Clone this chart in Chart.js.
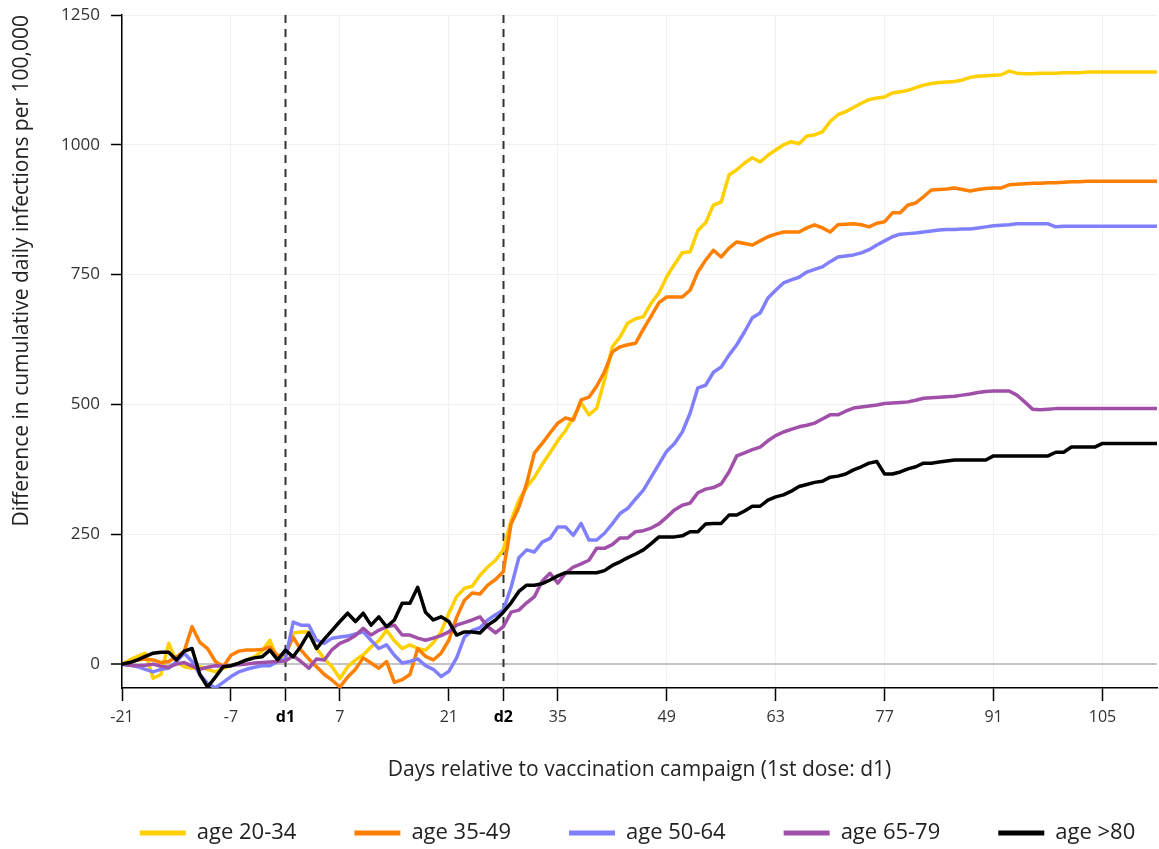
<!DOCTYPE html>
<html>
<head>
<meta charset="utf-8">
<script src="https://cdn.jsdelivr.net/npm/chart.js@4.4.1/dist/chart.umd.min.js"></script>
<style>
html,body{margin:0;padding:0;background:#ffffff;}
canvas{display:block;}
</style>
</head>
<body>
<canvas id="c" width="1159" height="849"></canvas>
<script>
// ---------- DATA ----------
const dayStart = -21, dayEnd = 112;
const days = [];
for (let d = dayStart; d <= dayEnd; d++) days.push(d);

const seriesLabels = ['age 20-34', 'age 35-49', 'age 50-64', 'age 65-79', 'age >80'];
const seriesColors = ['#FFD000', '#FF7F00', '#8080FF', '#A050A8', '#000000'];

const xTickValues = [-21, -7, 0, 7, 21, 28, 35, 49, 63, 77, 91, 105];
const xTickNames = {0: 'd1', 28: 'd2'};
const yTickValues = [0, 250, 500, 750, 1000, 1250];
const doseDays = [0, 28];

const age20_34 = [
  0, 8, 15, 21, -27, -20, 40, 5, -5, -8, -5, -10, -15, -8,
  -3, 2, 8, 14, 25, 46, 8, 15, 60, 62, 62, 30, 10, -5,
  -28, -5, 8, 18, 33, 45, 65, 45, 30, 37, 30, 27, 41, 62,
  98, 130, 146, 150, 171, 187, 200, 220, 277, 316, 341, 360, 385, 407,
  430, 450, 475, 503, 480, 493, 547, 611, 630, 657, 665, 669, 695, 715,
  746, 770, 792, 794, 835, 850, 884, 890, 942, 952, 965, 975, 967, 980,
  990, 1000, 1006, 1002, 1017, 1019, 1025, 1045, 1058, 1064, 1072, 1080, 1087, 1090,
  1092, 1100, 1102, 1105, 1110, 1115, 1118, 1120, 1121, 1122, 1125, 1130, 1132, 1133,
  1134, 1135, 1142, 1138, 1137, 1137, 1138, 1138, 1138, 1139, 1139, 1139, 1140, 1140,
  1140, 1140, 1140, 1140, 1140, 1140, 1140, 1140
];
const age35_49 = [
  0, 3, 8, 10, 8, 3, 5, 14, 25, 72, 42, 30, 5, -5,
  17, 25, 27, 27, 28, 33, 16, 20, 52, 27, 10, -5, -20, -31,
  -44, -25, -10, 12, 2, -8, 5, -35, -30, -20, 30, 15, 8, 21,
  46, 90, 123, 137, 135, 152, 163, 178, 270, 302, 348, 407, 425, 445,
  464, 474, 470, 509, 514, 535, 563, 601, 611, 615, 618, 645, 670, 696,
  707, 707, 707, 720, 755, 778, 797, 784, 801, 813, 810, 807, 815, 823,
  828, 832, 832, 832, 840, 846, 840, 832, 846, 847, 848, 846, 842, 849,
  852, 869, 869, 884, 888, 900, 913, 914, 915, 917, 914, 911, 914, 916,
  917, 917, 923, 924, 925, 926, 926, 927, 927, 928, 929, 929, 930, 930,
  930, 930, 930, 930, 930, 930, 930, 930
];
const age50_64 = [
  0, -2, -5, -10, -15, -10, -8, 5, 21, 5, -20, -37, -46, -35,
  -24, -15, -10, -6, -3, -3, 5, 10, 81, 75, 75, 46, 40, 50,
  52, 54, 58, 62, 46, 30, 37, 17, 2, 5, 10, -3, -10, -24,
  -14, 12, 52, 65, 70, 85, 95, 104, 148, 205, 220, 216, 235, 242,
  264, 264, 248, 271, 239, 239, 252, 270, 290, 300, 318, 335, 360, 385,
  410, 425, 447, 483, 532, 537, 562, 572, 595, 615, 640, 667, 676, 705,
  720, 734, 740, 745, 755, 760, 765, 775, 784, 786, 788, 792, 798, 807,
  815, 823, 828, 829, 830, 832, 834, 836, 837, 837, 838, 838, 840, 842,
  844, 845, 846, 848, 848, 848, 848, 848, 842, 843, 843, 843, 843, 843,
  843, 843, 843, 843, 843, 843, 843, 843
];
const age65_79 = [
  0, -2, -3, -2, 0, -4, -6, 0, 3, -4, -10, -6, -3, -4,
  -3, -1, 0, 2, 3, 4, 5, 6, 16, 5, -8, 10, 8, 28,
  40, 46, 55, 69, 56, 65, 72, 75, 56, 56, 50, 46, 50, 55,
  62, 75, 80, 85, 91, 72, 60, 72, 100, 104, 118, 130, 160, 175,
  156, 175, 187, 193, 200, 223, 223, 230, 243, 243, 255, 257, 262, 270,
  283, 297, 306, 310, 330, 337, 340, 347, 370, 401, 407, 413, 418, 430,
  440, 447, 452, 457, 460, 464, 472, 480, 480, 487, 493, 495, 497, 499,
  502, 503, 504, 505, 508, 512, 513, 514, 515, 516, 518, 520, 523, 525,
  526, 526, 526, 518, 505, 491, 490, 491, 492, 492, 492, 492, 492, 492,
  492, 492, 492, 492, 492, 492, 492, 492
];
const age80plus = [
  0, 3, 8, 15, 21, 23, 23, 8, 25, 30, -20, -44, -25, -5,
  -3, 2, 8, 12, 14, 27, 8, 27, 14, 35, 60, 30, 48, 65,
  82, 98, 82, 98, 75, 91, 72, 85, 117, 117, 148, 100, 85, 91,
  82, 56, 62, 62, 60, 75, 85, 100, 118, 140, 152, 152, 155, 162,
  170, 176, 176, 176, 176, 176, 180, 190, 197, 205, 212, 220, 232, 245,
  245, 245, 247, 255, 255, 270, 271, 271, 287, 287, 295, 304, 304, 316,
  322, 326, 333, 342, 346, 350, 352, 360, 362, 366, 374, 380, 387, 390,
  366, 366, 370, 376, 380, 387, 387, 389, 391, 393, 393, 393, 393, 393,
  401, 401, 401, 401, 401, 401, 401, 401, 408, 408, 418, 418, 418, 418,
  425, 425, 425, 425, 425, 425, 425, 425
];
const seriesValues = [age20_34, age35_49, age50_64, age65_79, age80plus];
const drawOrder = [4, 3, 2, 1, 0];

// ---------- CHART ----------
const FONT = "'Open Sans', 'Noto Sans', sans-serif";
Chart.defaults.font.family = FONT;
Chart.defaults.color = '#222';

const datasets = seriesLabels.map((lab, i) => ({
  label: lab,
  data: days.map((d, j) => ({x: d, y: seriesValues[i][j]})),
  borderColor: seriesColors[i],
  backgroundColor: seriesColors[i],
  borderWidth: 3.5,
  pointRadius: 0,
  pointHoverRadius: 0,
  tension: 0,
  order: drawOrder[i],
  borderJoinStyle: 'round',
  borderCapStyle: 'round'
}));

const doseLines = {
  id: 'doseLines',
  beforeDatasetsDraw(chart) {
    const {ctx, chartArea, scales} = chart;
    ctx.save();
    ctx.strokeStyle = '#333';
    ctx.lineWidth = 2;
    ctx.setLineDash([8, 6]);
    doseDays.forEach(d => {
      const x = Math.round(scales.x.getPixelForValue(d)) + 0.5;
      ctx.beginPath();
      ctx.moveTo(x, chartArea.top);
      ctx.lineTo(x, chartArea.bottom);
      ctx.stroke();
    });
    ctx.restore();
  }
};

// centre the (full-width) legend under the plot area rather than the canvas
const legendShift = {
  id: 'legendShift',
  afterLayout(chart) {
    const lg = chart.legend;
    if (!lg) return;
    const shift = (chart.chartArea.left + chart.chartArea.right) / 2 - (lg.left + lg.right) / 2 - 2;
    lg.left += shift;
    lg.right += shift;
    lg.top += 5;
    lg.bottom += 5;
  }
};

new Chart(document.getElementById('c'), {
  type: 'line',
  data: {datasets},
  plugins: [doseLines, legendShift],
  options: {
    responsive: false,
    animation: false,
    devicePixelRatio: 1,
    layout: {padding: {top: 15, right: 2, left: 0, bottom: 0}},
    plugins: {
      tooltip: {enabled: false},
      legend: {
        position: 'bottom',
        fullSize: true,
        labels: {
          boxWidth: 46,
          boxHeight: 5,
          padding: 58,
          color: '#222',
          font: {size: 22, family: FONT},
          sort: (a, b) => a.datasetIndex - b.datasetIndex,
          generateLabels: (chart) => Chart.defaults.plugins.legend.labels.generateLabels(chart)
            .map(l => Object.assign(l, {lineWidth: 0}))
        }
      }
    },
    scales: {
      x: {
        type: 'linear',
        min: dayStart,
        max: dayEnd,
        afterBuildTicks: (s) => { s.ticks = xTickValues.map(v => ({value: v})); },
        afterFit: (s) => { s.height = 71; },
        grid: {
          color: '#f1f1f1',
          lineWidth: 1,
          drawTicks: true,
          tickLength: 13,
          tickColor: '#000',
          tickWidth: 1.5
        },
        border: {display: true, color: '#000', width: 1.5},
        ticks: {
          autoSkip: false,
          maxRotation: 0,
          padding: 7,
          callback: (v) => (v in xTickNames ? xTickNames[v] : String(v)),
          color: (c) => (c.tick && (c.tick.value in xTickNames)) ? '#000' : '#333',
          font: (c) => ({
            family: FONT,
            size: 16,
            weight: (c.tick && (c.tick.value in xTickNames)) ? 'bold' : 'normal'
          })
        },
        title: {
          display: true,
          text: 'Days relative to vaccination campaign (1st dose: d1)',
          color: '#222',
          font: {size: 21, family: FONT},
          padding: {top: 0, bottom: -24}
        }
      },
      y: {
        type: 'linear',
        min: -46,
        max: 1250,
        afterBuildTicks: (s) => { s.ticks = yTickValues.map(v => ({value: v})); },
        afterFit: (s) => { s.width = 122; },
        grid: {
          color: (c) => (c.tick && c.tick.value === 0) ? '#c4c4c4' : '#f1f1f1',
          lineWidth: (c) => (c.tick && c.tick.value === 0) ? 2 : 1,
          drawTicks: true,
          tickLength: 11,
          tickColor: '#000',
          tickWidth: 1.5
        },
        border: {display: true, color: '#000', width: 1.5},
        ticks: {
          padding: 11,
          color: '#333',
          callback: (v) => String(v),
          font: {size: 17, family: FONT, lineHeight: 0.4}
        },
        title: {
          display: true,
          text: 'Difference in cumulative daily infections per 100,000',
          align: 'end',
          color: '#222',
          font: {size: 21, family: FONT},
          padding: {top: 9, bottom: 0}
        }
      }
    }
  }
});
</script>
</body>
</html>
